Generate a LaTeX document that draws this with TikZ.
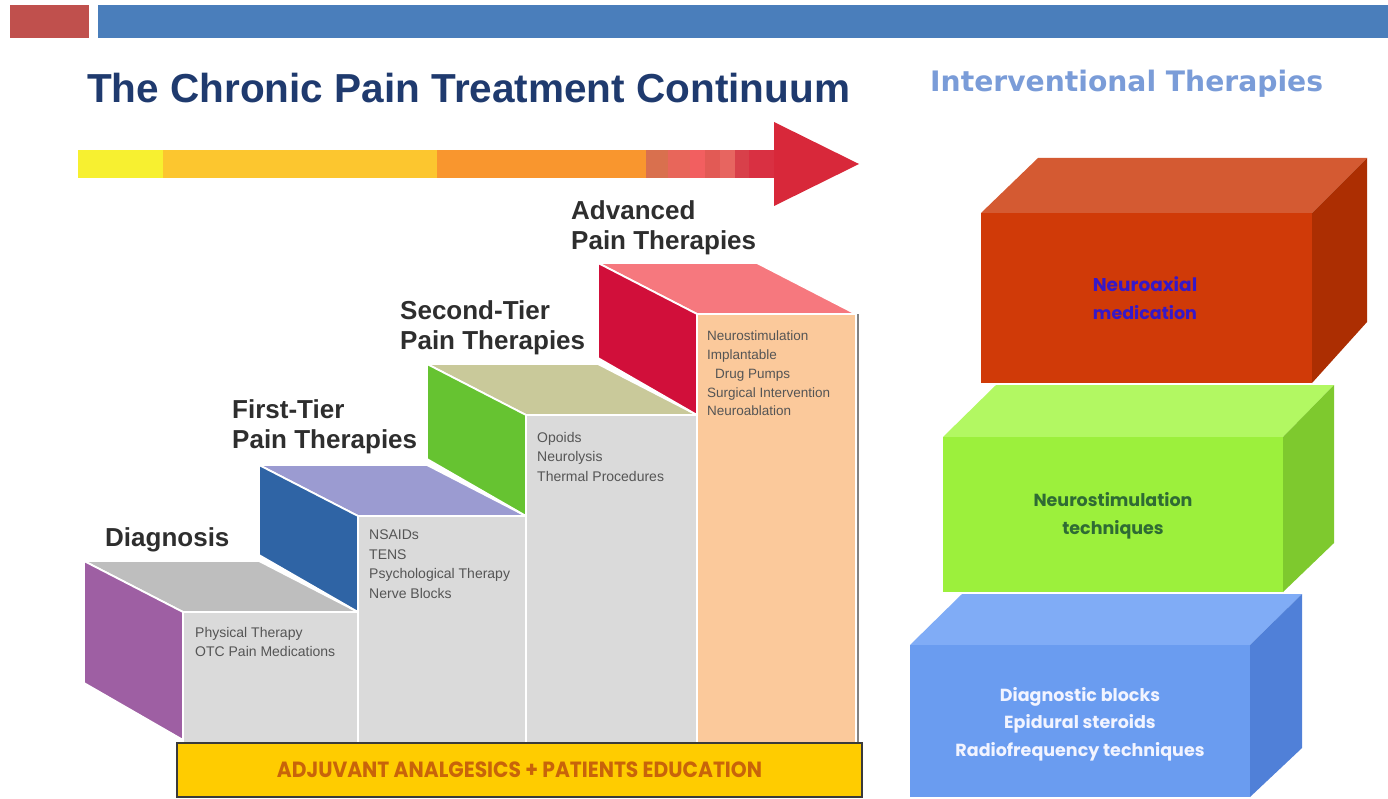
\documentclass[tikz,border=0pt]{standalone}
\usepackage{fontspec}
\usepackage{graphicx}
\setmainfont{Liberation Sans}
\newfontfamily\gothic{Poppins}
\newfontfamily\verdanaish{DejaVu Sans}

% palette
\definecolor{barred}{HTML}{C0504D}
\definecolor{barblue}{HTML}{4A7EBB}
\definecolor{titlenavy}{HTML}{1F3A6E}
\definecolor{subtitleblue}{HTML}{7A9CD8}
\definecolor{labgray}{HTML}{2E2E2E}
\definecolor{txtgray}{HTML}{555555}
\definecolor{frontgray}{HTML}{DADADA}
\definecolor{diagside}{HTML}{9E5FA3}
\definecolor{diagtop}{HTML}{BEBEBE}
\definecolor{firstside}{HTML}{2F64A5}
\definecolor{firsttop}{HTML}{9B9BD1}
\definecolor{secondside}{HTML}{66C331}
\definecolor{secondtop}{HTML}{C9C99A}
\definecolor{advside}{HTML}{D10F3A}
\definecolor{advtop}{HTML}{F6787E}
\definecolor{advfront}{HTML}{FBC99B}
\definecolor{adjfill}{HTML}{FFCC00}
\definecolor{adjtext}{HTML}{C8640A}

% one stair step: #1 left x, #2 right x, #3 tread y, #4 y of the tread below,
% #5 riser colour, #6 tread colour, #7 front colour
\newcommand{\stairstep}[7]{%
  \path[face, fill=#6] (#1-99,#3-51) -- (#2-99,#3-51) -- (#2,#3) -- (#1,#3) -- cycle;
  \path[face, fill=#5] (#1-99,#3-51) -- (#1,#3) -- (#1,#4) -- (#1-99,#4-57) -- cycle;
  \path[face, fill=#7] (#1,#3) rectangle (#2,743);
}

\begin{document}
\begin{tikzpicture}[x=1pt, y=-1pt,
  face/.style={draw=white, line width=1.8pt, line join=round},
  steplabel/.style={font=\bfseries\fontsize{26}{30}\selectfont, text=labgray,
    align=left, inner sep=0pt, anchor=north west},
  smalltext/.style={font=\fontsize{14}{19.5}\selectfont, text=txtgray,
    align=left, inner sep=0pt, anchor=north west},
  boxtext/.style={font=\gothic\bfseries\fontsize{17.5}{27.5}\selectfont,
    align=center, inner sep=0pt}]

\useasboundingbox[fill=white] (0,0) rectangle (1388,799);

% header bars
\fill[barred] (10,5) rectangle (89,38);
\fill[barblue] (98,5) rectangle (1388,38);

% titles
\node[anchor=base west, inner sep=0pt, text=titlenavy,
      font=\bfseries\fontsize{40.5}{48}\selectfont] (title) at (87,103)
  {The Chronic Pain Treatment Continuum};
\node[anchor=base west, inner sep=0pt, text=subtitleblue,
      font=\verdanaish\bfseries\fontsize{28.2}{34}\selectfont] (subtitle) at (930,92)
  {Interventional Therapies};

% continuum arrow
\fill[fill={rgb,255:red,247;green,240;blue,48}] (78,150) rectangle (163,178);
\fill[fill={rgb,255:red,252;green,198;blue,47}] (163,150) rectangle (437,178);
\fill[fill={rgb,255:red,249;green,150;blue,46}] (437,150) rectangle (646,178);
\fill[fill={rgb,255:red,217;green,112;blue,78}] (646,150) rectangle (668,178);
\fill[fill={rgb,255:red,232;green,102;blue,90}] (668,150) rectangle (690,178);
\fill[fill={rgb,255:red,242;green,95;blue,96}] (690,150) rectangle (705,178);
\fill[fill={rgb,255:red,226;green,90;blue,85}] (705,150) rectangle (720,178);
\fill[fill={rgb,255:red,231;green,101;blue,96}] (720,150) rectangle (735,178);
\fill[fill={rgb,255:red,216;green,64;blue,74}] (735,150) rectangle (749,178);
\fill[fill={rgb,255:red,217;green,48;blue,66}] (749,150) rectangle (775,178);
\fill[fill={rgb,255:red,216;green,40;blue,58}] (774,122) -- (859,164) -- (774,206) -- cycle;

% staircase
\stairstep{183}{358}{612}{740}{diagside}{diagtop}{frontgray}
\stairstep{358}{526}{516}{612}{firstside}{firsttop}{frontgray}
\stairstep{526}{697}{415}{516}{secondside}{secondtop}{frontgray}
\stairstep{697}{856}{314}{415}{advside}{advtop}{advfront}
\draw[line width=2pt, color={rgb,255:red,130;green,130;blue,130}] (858,314) -- (858,743);

% step headings
\node[anchor=base west, inner sep=0pt, text=labgray,
      font=\bfseries\fontsize{26}{30}\selectfont] (diag) at (105,546) {Diagnosis};
\node[steplabel] (first) at (232,399) {First-Tier\\Pain Therapies};
\node[steplabel] (second) at (400,300) {Second-Tier\\Pain Therapies};
\node[steplabel] (adv) at (571,200) {Advanced\\Pain Therapies};

% therapies on each step
\node[smalltext] (diagitems) at (195,627) {Physical Therapy\\OTC Pain Medications};
\node[smalltext] (firstitems) at (369,530) {NSAIDs\\TENS\\Psychological Therapy\\Nerve Blocks};
\node[smalltext] (seconditems) at (537,432) {Opoids\\Neurolysis\\Thermal Procedures};
\node[smalltext, font=\fontsize{13.5}{18.7}\selectfont] (advitems) at (707,331)
  {Neurostimulation\\Implantable\\\hspace*{8pt}Drug Pumps\\Surgical Intervention\\Neuroablation};

% foundation bar
\node[draw={rgb,255:red,58;green,58;blue,58}, line width=1.5pt, fill=adjfill,
      minimum width=685pt, minimum height=54pt, inner sep=0pt,
      text=adjtext, font=\gothic\bfseries\fontsize{22}{26}\selectfont] (adjuvant) at (519.5,770)
  {\scalebox{0.92}[1]{ADJUVANT ANALGESICS + PATIENTS EDUCATION}};

% interventional therapy blocks (bottom to top)
\fill[fill={rgb,255:red,128;green,172;blue,246}] (910,645) -- (962,594) -- (1302,594) -- (1250,645) -- cycle;
\fill[fill={rgb,255:red,80;green,128;blue,216}] (1250,645) -- (1302,594) -- (1302,748) -- (1250,797) -- cycle;
\fill[fill={rgb,255:red,106;green,156;blue,240}] (910,645) rectangle (1250,797);
\node[boxtext, text={rgb,255:red,242;green,244;blue,255}] (blocks) at (1080,724)
  {Diagnostic blocks\\Epidural steroids\\Radiofrequency techniques};

\fill[fill={rgb,255:red,178;green,248;blue,98}] (943,437) -- (996,385) -- (1334,385) -- (1283,437) -- cycle;
\fill[fill={rgb,255:red,126;green,201;blue,46}] (1283,437) -- (1334,385) -- (1334,543) -- (1283,592) -- cycle;
\fill[fill={rgb,255:red,156;green,240;blue,60}] (943,437) rectangle (1283,592);
\node[boxtext, text={rgb,255:red,47;green,107;blue,52}] (neurostim) at (1113,516)
  {Neurostimulation\\techniques};

\fill[fill={rgb,255:red,212;green,90;blue,50}] (981,213) -- (1038,158) -- (1367,158) -- (1312,213) -- cycle;
\fill[fill={rgb,255:red,172;green,46;blue,2}] (1312,213) -- (1367,158) -- (1367,322) -- (1312,383) -- cycle;
\fill[fill={rgb,255:red,208;green,58;blue,8}] (981,213) rectangle (1312,383);
\node[boxtext, text={rgb,255:red,54;green,24;blue,200}] (neuroaxial) at (1145,298)
  {\fontsize{18.5}{27.5}\selectfont Neuroaxial\\medication};

\end{tikzpicture}
\end{document}
